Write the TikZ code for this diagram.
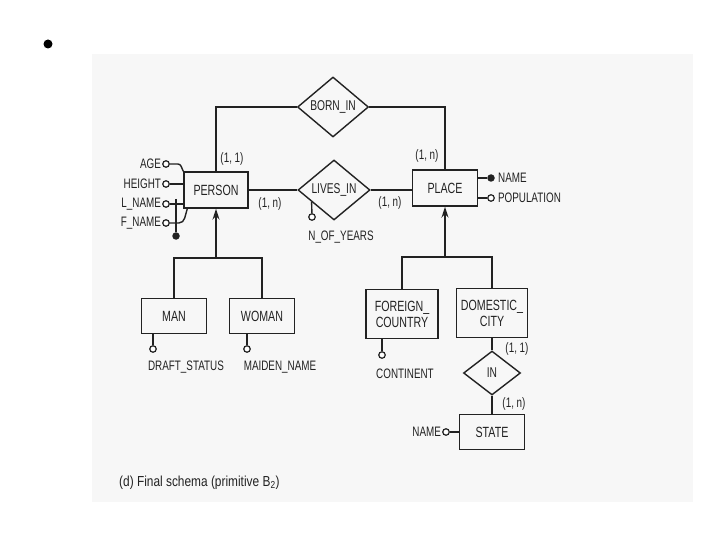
\documentclass[tikz,border=0pt]{standalone}
\usepackage{fontspec}
\setmainfont{Liberation Sans}[FakeStretch=0.72]
\newfontfamily\capfont{Liberation Sans}[FakeStretch=0.82]
\usetikzlibrary{shapes.geometric,arrows.meta,calc}
\definecolor{ink}{HTML}{222222}
\definecolor{scan}{HTML}{F7F7F7}
\begin{document}
\begin{tikzpicture}[x=1pt,y=-1pt,
  ent/.style={draw=ink,line width=1.4pt,inner sep=0pt,align=center,text=ink,font=\fontsize{14.8}{16}\selectfont},
  rel/.style={diamond,draw=ink,line width=1.4pt,inner sep=0pt,text=ink,font=\fontsize{14.2}{15}\selectfont},
  att/.style={circle,draw=ink,line width=1.2pt,fill=white,minimum size=6.5pt,inner sep=0pt},
  keyatt/.style={circle,fill=ink,minimum size=7.5pt,inner sep=0pt},
  lbl/.style={text=ink,inner sep=1pt,font=\fontsize{13.7}{14.5}\selectfont},
  ln/.style={draw=ink,line width=1.4pt},
  isa/.style={ln,-{Stealth[length=11pt,width=7pt]}}]
\useasboundingbox (0,0) rectangle (720,540);
\fill[scan] (92,54) rectangle (693,502);
\node[circle,fill=black,minimum size=9pt,inner sep=0pt] (bul) at (48,44) {};

% relationships
\node[rel,minimum width=71pt,minimum height=60pt] (born) at (333,107) {BORN\_IN};
\node[rel,minimum width=72pt,minimum height=60pt] (lives) at (334,190) {LIVES\_IN};
\node[rel,minimum width=57pt,minimum height=44pt] (in) at (492,373) {IN};

% entities
\node[ent,minimum width=64pt,minimum height=36pt] (person) at (216,190) {PERSON};
\node[ent,minimum width=65pt,minimum height=36pt] (place) at (445,188) {PLACE};
\node[ent,minimum width=65pt,minimum height=35pt] (man) at (174,316) {MAN};
\node[ent,minimum width=65pt,minimum height=35pt] (woman) at (262,316) {WOMAN};
\node[ent,minimum width=72pt,minimum height=49pt] (fc) at (402,314) {FOREIGN\_\\COUNTRY};
\node[ent,minimum width=71pt,minimum height=49pt] (dc) at (492,313) {DOMESTIC\_\\CITY};
\node[ent,minimum width=65pt,minimum height=35pt] (state) at (492,432) {STATE};

% relationship links
\draw[ln] (born.west) -| (person.north);
\draw[ln] (born.east) -| (place.north);
\draw[ln] (person.east) -- (lives.west);
\draw[ln] (lives.east) -- (lives.east -| place.west);
\draw[ln] (dc.south) -- (in.north);
\draw[ln] (in.south) -- (state.north);

% cardinalities
\node[lbl] (c1) at (232,159) {(1, 1)};
\node[lbl] (c2) at (270,204) {(1, n)};
\node[lbl] (c3) at (390,203) {(1, n)};
\node[lbl] (c4) at (427,156) {(1, n)};
\node[lbl] (c5) at (517,349) {(1, 1)};
\node[lbl] (c6) at (514,404) {(1, n)};

% N_OF_YEARS
\coordinate (nyt) at ($(lives.west)!0.39!(lives.south)$);
\node[att] (ny) at (312,217) {};
\draw[ln] (nyt) -- (ny);
\node[lbl] (nytx) at (341,237) {N\_OF\_YEARS};

% PERSON attributes
\node[att] (a1) at (166,164) {};
\node[att] (a2) at (166,184) {};
\node[att] (a3) at (166,204) {};
\node[att] (a4) at (166,223) {};
\node[lbl,anchor=east] (a1t) at (a1.west) {AGE};
\node[lbl,anchor=east] (a2t) at (a2.west) {HEIGHT};
\node[lbl,anchor=east] (a3t) at (a3.west) {L\_NAME};
\node[lbl,anchor=east] (a4t) at (a4.west) {F\_NAME};
\draw[ln] (a1.east) -- ++(8,0) to[out=0,in=120] (person.north west);
\draw[ln] (a2) -- (a2 -| person.west);
\draw[ln] (a3) -- (a3 -| person.west);
\draw[ln] (a4.east) -- ++(9,0) to[out=0,in=-110] ([xshift=4pt]person.south west);
\coordinate (kt) at (176,199);
\node[keyatt] (k1) at (176,236) {};
\draw[ln] (kt) -- (k1);

% PLACE attributes
\node[keyatt] (pn) at (491,178) {};
\node[att] (pp) at (491,198) {};
\draw[ln] (pn) -- (pn -| place.east);
\draw[ln] (pp) -- (pp -| place.east);
\node[lbl,anchor=west] (pnt) at ([xshift=2pt]pn.east) {NAME};
\node[lbl,anchor=west] (ppt) at ([xshift=2pt]pp.east) {POPULATION};

% subclass attributes
\node[att] (ds) at (153,349) {};
\draw[ln] (ds) -- (ds |- man.south);
\node[lbl] (dst) at (186,367) {DRAFT\_STATUS};
\node[att] (mn) at (247,349) {};
\draw[ln] (mn) -- (mn |- woman.south);
\node[lbl] (mnt) at (280,367) {MAIDEN\_NAME};
\node[att] (ct) at (382,355) {};
\draw[ln] (ct) -- (ct |- fc.south);
\node[lbl] (ctt) at (405,374) {CONTINENT};
\node[att] (sn) at (446,432) {};
\draw[ln] (sn) -- (state.west);
\node[lbl,anchor=east] (snt) at (sn.west) {NAME};

% generalizations
\coordinate (gp) at (216,258);
\draw[ln] (man.north) |- (gp) -| (woman.north);
\draw[isa] (gp) -- (person.south);
\coordinate (gq) at (445,257);
\draw[ln] (fc.north) |- (gq) -| (dc.north);
\draw[isa] (gq) -- (place.south);

% caption
\node[anchor=west,text=ink,inner sep=0pt,font=\capfont\fontsize{14.5}{16}\selectfont] (cap) at (119,483) {(d) Final schema (primitive B\textsubscript{2})};
\end{tikzpicture}
\end{document}
